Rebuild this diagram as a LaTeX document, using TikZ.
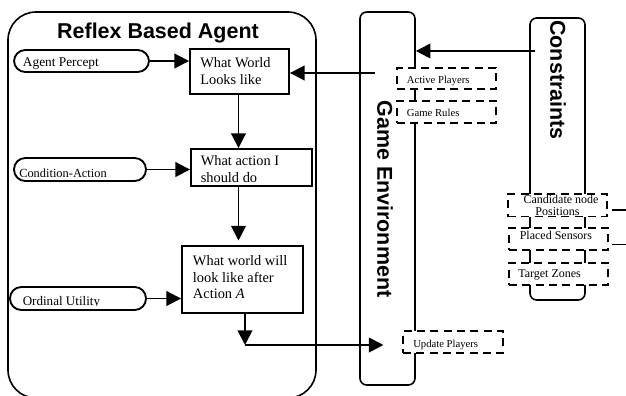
\documentclass[tikz,border=0pt]{standalone}
\usepackage{fontspec}
\setmainfont{Liberation Serif}
\newfontfamily\headfont{Liberation Sans}
\usetikzlibrary{arrows.meta,fit}

\tikzset{
  frame/.style={draw, line width=1.2pt, inner sep=0pt},
  box/.style={draw, line width=1.4pt, inner sep=0pt},
  pill/.style={draw, line width=1.4pt, inner sep=0pt, rounded corners=8.5pt},
  dbox/.style={draw, fill=white, line width=1.4pt, inner sep=0pt,
               dash pattern=on 6pt off 4pt},
  link/.style={line width=1.4pt},
  arr/.style={line width=1.4pt, -{Triangle[length=11pt,width=11pt]}},
  head/.style={font=\headfont\bfseries\fontsize{16.1}{19}\selectfont, inner sep=0pt},
  side/.style={font=\headfont\bfseries\fontsize{16.1}{19}\selectfont, inner sep=0pt, rotate=-90},
  btext/.style={font=\fontsize{10.8}{12.75}\selectfont, inner sep=0pt, anchor=base west},
  ptext/.style={font=\fontsize{10}{12}\selectfont, inner sep=0pt, anchor=base west},
  gtext/.style={font=\fontsize{8}{10}\selectfont, inner sep=0pt, anchor=base west},
  ctext/.style={font=\fontsize{9}{11}\selectfont, inner sep=0pt},
}

\begin{document}
\begin{tikzpicture}[x=0.75pt, y=-0.75pt]
\useasboundingbox (0,0) rectangle (626,396);

% ---- outer frames ----
\node[frame, rounded corners=21pt, fit={(8,12) (316,398)}] (agent) {};
\node[head, anchor=base] (agenttitle) at (158,38.5) {Reflex Based Agent};

\node[frame, rounded corners=5pt, fit={(360,12) (415,385)}] (env) {};
\node[side] (envtitle) at (385,199) {Game Environment};

\node[frame, rounded corners=5pt, fit={(530,18) (585,300)}] (cons) {};
\node[side] (constitle) at (558,80) {Constraints};

% ---- agent internals ----
\node[pill, fit={(14,50) (149,72)}] (percept) {};
\node[ptext] (percepttxt) at (22.7,66) {Agent Percept};

\node[pill, fit={(14,158) (146,181)}] (condact) {};
\begin{scope}
  \clip (14,150) rectangle (146,176.3);
  \node[ptext, font=\fontsize{9.3}{11}\selectfont] (condacttxt) at (19,177.5) {Condition-Action};
\end{scope}

\node[pill, fit={(10,287) (146,310)}] (ordutil) {};
\begin{scope}
  \clip (10,280) rectangle (146,305.3);
  \node[ptext, font=\fontsize{9.8}{12}\selectfont] (ordutiltxt) at (22.5,305) {Ordinal Utility};
\end{scope}

\node[box, fit={(190,49) (289,94)}] (world) {};
\node[btext] (worldtxta) at (200,67) {What World};
\node[btext] (worldtxtb) at (200,84.5) {Looks like};

\node[box, fit={(191,149) (312,186)}] (action) {};
\node[btext] (actiontxta) at (200.5,165) {What action I};
\node[btext] (actiontxtb) at (200.5,182) {should do};

\node[box, fit={(182,246) (303,313)}] (after) {};
\node[btext] (aftertxta) at (192.7,265) {What world will};
\node[btext] (aftertxtb) at (192.7,282) {look like after};
\node[btext] (aftertxtc) at (192.7,298.5) {Action \textit{A}};

% ---- environment items ----
\node[dbox, fit={(397,68) (496,89)}] (active) {};
\node[gtext] (activetxt) at (406.7,83) {Active Players};

\node[dbox, fit={(397,101) (496,123)}] (rules) {};
\node[gtext] (rulestxt) at (406.7,116) {Game Rules};

\node[dbox, fit={(403,331) (503,353)}] (update) {};
\node[gtext] (updatetxt) at (413,347) {Update Players};

% ---- constraint items ----
\node[dbox, fit={(508,194) (607,216.5)}] (candidate) {};
\node[ctext, anchor=base] (candtxta) at (561,203) {Candidate node};
\node[ctext, anchor=base] (candtxtb) at (557.5,215) {Positions};

\node[dbox, fit={(509,228) (608,250)}] (placed) {};
\node[ctext, anchor=base west] (placedtxt) at (519.5,239) {Placed Sensors};

\node[dbox, fit={(509,263) (608,285)}] (target) {};
\node[ctext, anchor=base west] (targettxt) at (518,277) {Target Zones};

% ---- connectors ----
\draw[arr] (percept.east) -- (percept.east -| world.west);
\draw[arr] (condact.east) -- (condact.east -| action.west);
\draw[arr] (ordutil.east) -- (ordutil.east -| after.west);

\coordinate (flowx) at (238.5,0);
\coordinate (aftertop) at (238.5,240.5);
\draw[arr] (world.south -| flowx) -- (action.north -| flowx);
\draw[arr] (action.south -| flowx) -- (aftertop);

\coordinate (outx) at (245,0);
\coordinate (turn) at (245,345);
\coordinate (updatein) at (383.5,345);
\draw[arr] (after.south -| outx) -- (turn);
\draw[arr] (turn) -- (updatein);

\coordinate (envout) at (375,73);
\draw[arr] (envout) -- (envout -| world.east);

\coordinate (consout) at (535,51);
\draw[arr] (consout) -- (consout -| env.east);

\coordinate (stubA) at (612,210);
\coordinate (stubAend) at (627,210);
\coordinate (stubB) at (612,244.5);
\coordinate (stubBend) at (627,244.5);
\draw[link] (stubA) -- (stubAend);
\draw[link] (stubB) -- (stubBend);
\end{tikzpicture}
\end{document}
